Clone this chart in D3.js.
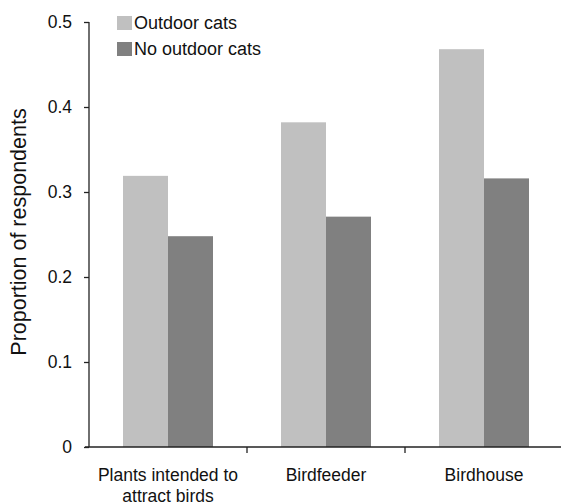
<!DOCTYPE html>
<html lang="en">
<head>
  <meta charset="UTF-8" />
  <title>Proportion of respondents</title>
  <style>
    body { margin: 0; background: #fff; }
    svg text { font-family: "Liberation Sans", Arial, sans-serif; fill: #111; }
  </style>
</head>
<body>
  <div id="chart"></div>
  <script src="https://cdnjs.cloudflare.com/ajax/libs/d3/7.8.4/d3.min.js"></script>
  <script>
    const categories = ["Plants intended to|attract birds", "Birdfeeder", "Birdhouse"];
    const seriesNames = ["Outdoor cats", "No outdoor cats"];
    const outdoorCats = [0.319, 0.382, 0.468];
    const noOutdoorCats = [0.248, 0.271, 0.316];
    const yTicks = [0, 0.1, 0.2, 0.3, 0.4, 0.5];
    const colors = ["#c0c0c0", "#808080"];

    const width = 561, height = 503;
    const margin = { left: 89, top: 22, right: 0, bottom: 56 };
    const svg = d3.select("#chart").append("svg").attr("width", width).attr("height", height);

    const x = d3.scaleBand().domain(categories).range([margin.left, 563]);
    const y = d3.scaleLinear().domain([0, 0.5]).range([height - margin.bottom, margin.top]);
    const barW = 45;

    // bars
    const series = [outdoorCats, noOutdoorCats];
    series.forEach((vals, si) => {
      svg.append("g").selectAll("rect")
        .data(vals)
        .enter().append("rect")
        .attr("x", (d, i) => x(categories[i]) + x.bandwidth() / 2 - barW + si * barW)
        .attr("y", d => y(d))
        .attr("width", barW)
        .attr("height", d => y(0) - y(d))
        .attr("fill", colors[si]);
    });

    // y axis
    const yAxis = svg.append("g")
      .attr("transform", `translate(${margin.left},0)`)
      .call(d3.axisLeft(y).tickValues(yTicks).tickSize(5).tickPadding(12)
        .tickFormat(d => d === 0 ? "0" : d3.format(".1f")(d)));
    yAxis.select(".domain").attr("d", `M-0,${y(0.5)}V${y(0)}`);
    yAxis.selectAll("text").style("font-size", "17.5px");
    yAxis.selectAll("line, path").attr("stroke", "#222").attr("stroke-width", 1.3);

    // x axis
    const xAxis = svg.append("g")
      .attr("transform", `translate(0,${y(0)})`)
      .call(d3.axisBottom(x).tickSize(0).tickFormat(""));
    xAxis.select(".domain").attr("d", `M${margin.left - 4},0H${width}`)
      .attr("stroke", "#222").attr("stroke-width", 1.3);
    // category separators
    xAxis.selectAll(".sep")
      .data(categories)
      .enter().append("line")
      .attr("x1", d => x(d) + x.bandwidth())
      .attr("x2", d => x(d) + x.bandwidth())
      .attr("y1", 0).attr("y2", 6)
      .attr("stroke", "#222").attr("stroke-width", 1.3);

    // category labels
    categories.forEach(c => {
      const t = svg.append("text")
        .attr("x", x(c) + x.bandwidth() / 2)
        .attr("y", 481)
        .attr("text-anchor", "middle")
        .style("font-size", "17.5px");
      c.split("|").forEach((line, i) => {
        t.append("tspan").attr("x", x(c) + x.bandwidth() / 2).attr("dy", i === 0 ? 0 : 21).text(line);
      });
    });

    // y title
    svg.append("text")
      .attr("transform", `translate(26,232) rotate(-90)`)
      .attr("text-anchor", "middle")
      .style("font-size", "21.5px")
      .text("Proportion of respondents");

    // legend
    const legend = svg.append("g");
    seriesNames.forEach((name, i) => {
      legend.append("rect")
        .attr("x", 117).attr("y", 16 + i * 26)
        .attr("width", 15).attr("height", 14)
        .attr("fill", colors[i]);
      legend.append("text")
        .attr("x", 134).attr("y", 29 + i * 26)
        .style("font-size", "18px")
        .text(name);
    });
  </script>
</body>
</html>
